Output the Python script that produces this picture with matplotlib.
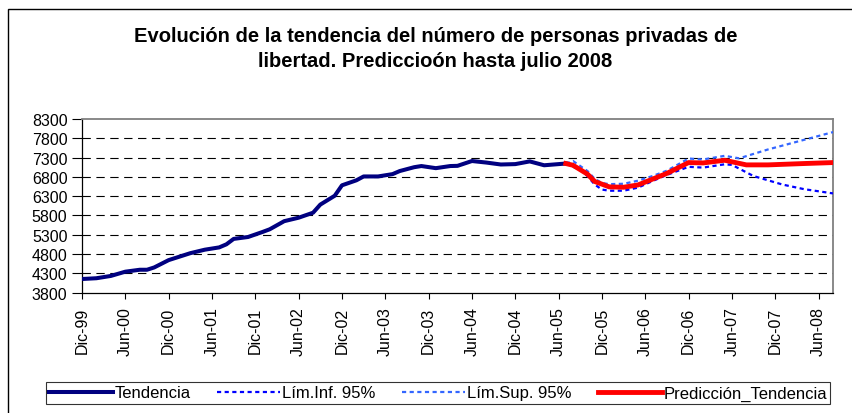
import numpy as np
import matplotlib
matplotlib.use("Agg")
import matplotlib.pyplot as plt
from matplotlib.patches import Rectangle

plt.rcParams['font.family'] = ['Liberation Sans', 'DejaVu Sans']
plt.rcParams['lines.scale_dashes'] = False

## ========= data (month index 0 = Dic-99) =========
tick_labels = ['Dic-99', 'Jun-00', 'Dic-00', 'Jun-01', 'Dic-01', 'Jun-02', 'Dic-02',
               'Jun-03', 'Dic-03', 'Jun-04', 'Dic-04', 'Jun-05', 'Dic-05', 'Jun-06',
               'Dic-06', 'Jun-07', 'Dic-07', 'Jun-08']

tend_m = [0, 2, 4, 6, 8, 9, 10, 12, 14, 15, 17, 19, 20, 21, 23, 25, 26, 28, 30, 32,
          33, 35, 36, 38, 39, 41, 43, 44, 46, 47, 49, 51, 52, 54, 56, 58, 60, 62, 64, 67]
tend_v = [4150, 4170, 4230, 4340, 4390, 4390, 4450, 4640, 4760, 4820, 4910, 4970,
          5050, 5190, 5240, 5370, 5440, 5650, 5740, 5870, 6080, 6310, 6580, 6710,
          6810, 6810, 6870, 6950, 7050, 7080, 7025, 7080, 7085, 7210, 7170, 7120,
          7130, 7200, 7100, 7145]

pred_m = [67, 68, 70, 71, 73, 75, 77, 79, 81, 84, 86, 89, 90, 92, 95, 100, 104]
pred_v = [7145, 7100, 6870, 6680, 6540, 6530, 6590, 6740, 6890, 7170, 7160, 7230,
          7190, 7110, 7110, 7145, 7170]

inf_m = [67, 69, 70, 71, 72, 73, 75, 77, 79, 81, 84, 86, 89, 90, 93, 97, 100, 104]
inf_v = [7145, 6980, 6820, 6600, 6470, 6440, 6440, 6520, 6690, 6850, 7060, 7040,
         7125, 7110, 6820, 6600, 6480, 6370]

sup_m = [67, 68, 70, 71, 72, 73, 75, 77, 79, 81, 84, 86, 89, 91, 95, 100, 104]
sup_v = [7145, 7210, 6950, 6750, 6640, 6610, 6620, 6700, 6820, 6960, 7275, 7250,
         7345, 7280, 7510, 7760, 7960]

## ========= figure =========
fig = plt.figure(figsize=(8.53, 4.14), dpi=100)
fig.patches.append(Rectangle((8 / 853, -0.1), 1.2, 1 - 9.5 / 414 + 0.1,
                             transform=fig.transFigure, fill=False,
                             edgecolor='black', linewidth=1))

ax = fig.add_axes([82 / 853, 1 - 293.5 / 414, 751 / 853, 173.5 / 414])

ax.plot(tend_m, tend_v, color='#000080', lw=2.9, solid_joinstyle='round',
        label='Tendencia', zorder=3)
ax.plot(inf_m, inf_v, color='#0000FF', lw=1.6, dashes=(3, 2.5),
        label='Lím.Inf. 95%', zorder=4)
ax.plot(sup_m, sup_v, color='#3366FF', lw=1.6, dashes=(3, 2.5),
        label='Lím.Sup. 95%', zorder=4)
ax.plot(pred_m, pred_v, color='#FF0000', lw=3.5, solid_joinstyle='round',
        label='Predicción_Tendencia', zorder=5)

ax.set_xlim(0, 104)
ax.set_ylim(3800, 8300)
ax.set_yticks(np.arange(3800, 8301, 500))
ax.set_xticks(np.arange(0, 103, 6))
ax.set_xticklabels(tick_labels, rotation=90, fontsize=11.5)
ax.tick_params(axis='y', labelsize=11.5, direction='out', length=7, pad=3.5)
ax.tick_params(axis='x', direction='out', length=4, pad=6)

for yv in range(4300, 8300, 500):
    ax.axhline(yv, color='black', lw=0.8, dashes=(6, 4), zorder=1)

for s in ['top', 'right']:
    ax.spines[s].set_color('#808080')
    ax.spines[s].set_linewidth(1.3)
for s in ['left', 'bottom']:
    ax.spines[s].set_color('black')
    ax.spines[s].set_linewidth(0.9)

fig.text(0.5106, 1 - 42 / 414, 'Evolución de la tendencia del número de personas privadas de',
         ha='center', va='baseline', fontsize=14.5, fontweight='bold')
fig.text(0.5106, 1 - 67 / 414, 'libertad. Prediccioón hasta julio 2008',
         ha='center', va='baseline', fontsize=14.5, fontweight='bold')

leg = fig.legend(loc='center', bbox_to_anchor=(438 / 853, 1 - 394 / 414), ncol=4,
                 fontsize=12, frameon=True, fancybox=False, handlelength=3.8,
                 handletextpad=0.1, columnspacing=1.6, borderpad=0.2)
leg.get_frame().set_edgecolor('black')
leg.get_frame().set_linewidth(0.8)

fig.savefig('out.png', dpi=100)
